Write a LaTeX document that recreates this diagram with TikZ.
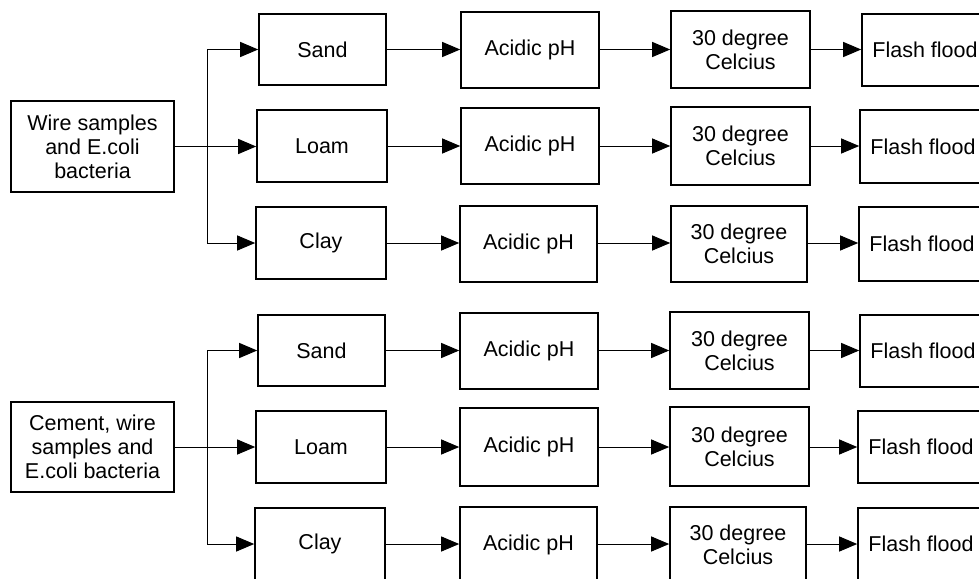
\documentclass[tikz,border=0pt]{standalone}
\usepackage{fontspec}
\setmainfont{Liberation Sans}
\usetikzlibrary{arrows.meta}
\tikzset{
  box/.style={draw=black, line width=1.6pt, inner sep=0pt, align=center,
    font=\fontsize{21.5}{24}\selectfont},
  arr/.style={draw=black, line width=1pt, -{Triangle[length=18pt,width=15pt]}},
  ln/.style={draw=black, line width=1pt},
}
\newcommand{\bx}[6]{\node[box, minimum width=#3pt, minimum height=#4pt] (#1) at (#2) {#6};}
\begin{document}
\begin{tikzpicture}[x=1pt,y=-1pt]
\useasboundingbox (0,0) rectangle (979,578);
\clip (0,0) rectangle (979,578);
% top group
\bx{wire}{92.5,146.5}{163}{91}{}{Wire samples\\and E.coli\\bacteria}
\bx{sandA}{322.5,49.5}{127}{71}{}{Sand}
\bx{loamA}{322,146}{130}{72}{}{Loam}
\bx{clayA}{321,243}{130}{72}{}{Clay}
\bx{acidA}{530,50}{138}{76}{}{Acidic pH}
\bx{acidB}{530,146}{138}{76}{}{Acidic pH}
\bx{acidC}{528.5,244}{137}{76}{}{Acidic pH}
\bx{degA}{740.5,49.5}{139}{77}{}{30 degree\\Celcius}
\bx{degB}{740.5,146}{139}{78}{}{30 degree\\Celcius}
\bx{degC}{739,244}{136}{76}{}{30 degree\\Celcius}
\bx{flA}{925,50}{126}{72}{}{Flash flood}
\bx{flB}{923,146.5}{126}{73}{}{Flash flood}
\bx{flC}{922,244}{126}{74}{}{Flash flood}
% bottom group
\bx{cem}{92.5,447}{163}{90}{}{Cement, wire\\samples and\\E.coli bacteria}
\bx{sandB}{321.5,350.5}{127}{71}{}{Sand}
\bx{loamB}{321,447}{130}{72}{}{Loam}
\bx{clayB}{320,544}{130}{72}{}{Clay}
\bx{acidD}{529,351}{138}{76}{}{Acidic pH}
\bx{acidE}{529,447}{138}{78}{}{Acidic pH}
\bx{acidF}{528.5,545}{137}{76}{}{Acidic pH}
\bx{degD}{739.5,350.5}{139}{77}{}{30 degree\\Celcius}
\bx{degE}{739.5,446.5}{139}{79}{}{30 degree\\Celcius}
\bx{degF}{738,545}{136}{76}{}{30 degree\\Celcius}
\bx{flD}{923,351}{126}{72}{}{Flash flood}
\bx{flE}{921,447}{126}{72}{}{Flash flood}
\bx{flF}{921,544}{126}{72}{}{Flash flood}
% branches
\coordinate (b1) at (207,146.5);
\coordinate (b2) at (207,447);
\draw[ln] (wire.east) -- (b1);
\draw[arr] (b1) |- (sandA.west);
\draw[arr] (b1) -- (b1 -| loamA.west);
\draw[arr] (b1) |- (clayA.west);
\draw[ln] (cem.east) -- (b2);
\draw[arr] (b2) |- (sandB.west);
\draw[arr] (b2) -- (b2 -| loamB.west);
\draw[arr] (b2) |- (clayB.west);
% rows
\foreach \s/\a/\d/\f in {sandA/acidA/degA/flA, loamA/acidB/degB/flB, clayA/acidC/degC/flC,
  sandB/acidD/degD/flD, loamB/acidE/degE/flE, clayB/acidF/degF/flF}{
  \draw[arr] (\s.east) -- (\s.east -| \a.west);
  \draw[arr] (\s.east -| \a.east) -- (\s.east -| \d.west);
  \draw[arr] (\s.east -| \d.east) -- (\s.east -| \f.west);
}
\end{tikzpicture}
\end{document}
